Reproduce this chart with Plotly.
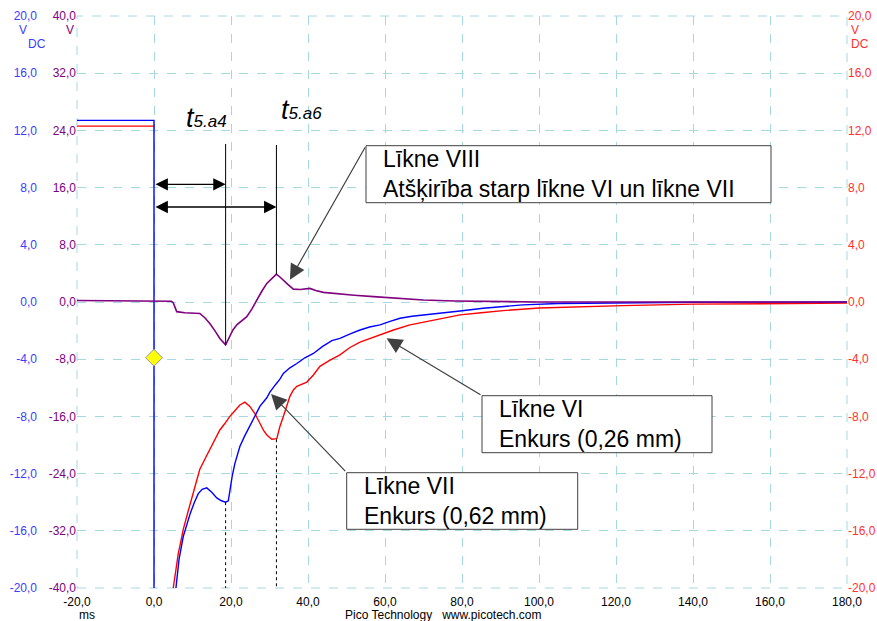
import plotly.graph_objects as go

W, H = 877, 621
# plot area in pixels
PX0, PX1, PY0, PY1 = 77, 847, 16, 588

# ---------------- data ----------------
X_TICKS = [-20, 0, 20, 40, 60, 80, 100, 120, 140, 160, 180]
X_LABELS = ["-20,0", "0,0", "20,0", "40,0", "60,0", "80,0", "100,0", "120,0", "140,0", "160,0", "180,0"]
V_TICKS = [-20, -16, -12, -8, -4, 0, 4, 8, 12, 16, 20]
V_LABELS = ["-20,0", "-16,0", "-12,0", "-8,0", "-4,0", "0,0", "4,0", "8,0", "12,0", "16,0", "20,0"]
P_TICKS = [-40, -32, -24, -16, -8, 0, 8, 16, 24, 32, 40]
P_LABELS = ["-40,0", "-32,0", "-24,0", "-16,0", "-8,0", "0,0", "8,0", "16,0", "24,0", "32,0", "40,0"]

# Līkne VI (blue, V)
blue_t = [-20, 0, 0, None,
          5.7, 6.5, 7.6, 8.5, 9.4, 10.5, 11.5, 12.5, 13.7, 15.0, 16.3, 17.5, 18.6, 19.3, 19.7,
          20.3, 21.0, 22.3, 23.5, 24.9, 26.2, 27.5, 29.3, 30.1, 31.5, 32.7, 33.6, 35.3, 37.1,
          39.2, 41.4, 43.8, 46.2, 48.3, 50.8, 53.5, 56.0, 58.7, 61.3, 63.9, 67.0, 70.8, 75.0,
          79.5, 85.5, 90.0, 95.8, 105, 120, 140, 180]
blue_v = [12.7, 12.7, -22, None,
          -20.0, -18.0, -16.4, -15.5, -14.8, -14.0, -13.4, -13.1, -13.0, -13.3, -13.7, -13.9, -14.0, -13.9, -13.1,
          -12.2, -11.3, -10.1, -9.4, -8.7, -8.0, -7.3, -6.7, -6.3, -5.8, -5.4, -5.0, -4.6, -4.3,
          -3.9, -3.6, -3.1, -2.7, -2.55, -2.25, -1.96, -1.75, -1.6, -1.35, -1.14, -1.0, -0.9, -0.75,
          -0.63, -0.44, -0.32, -0.2, -0.1, -0.05, -0.02, 0.0]

# Līkne VII (red, V) - its drop at t=0 lies under the blue trace
red_t = [-20, 0, None,
         5.0, 5.6, 6.3, 7.0, 7.6, 8.9, 10.2, 11.0, 11.9, 13.2, 14.5, 15.8, 17.1, 18.4, 19.7,
         21.0, 22.3, 23.6, 24.9, 26.2, 27.5, 28.5, 29.3, 30.6, 31.9, 32.7, 33.6, 34.5, 35.3,
         36.2, 37.1, 39.7, 41.4, 43.1, 45.5, 48.3, 50.8, 53.5, 56.0, 58.7, 62.2, 66.5, 70.0,
         75.0, 79.5, 85.0, 90.7, 100, 110, 121.8, 140, 160, 180]
red_v = [12.3, 12.3, None,
         -20.0, -18.8, -17.6, -16.7, -15.9, -14.6, -13.4, -12.5, -11.7, -11.0, -10.3, -9.6, -8.95, -8.5, -8.0,
         -7.6, -7.2, -7.0, -7.3, -7.8, -8.5, -9.0, -9.3, -9.6, -9.55, -8.7, -8.0, -7.3, -6.6,
         -6.15, -5.9, -5.6, -5.1, -4.5, -4.1, -3.7, -3.2, -2.8, -2.55, -2.3, -1.96, -1.6, -1.4,
         -1.12, -0.9, -0.75, -0.6, -0.42, -0.32, -0.25, -0.15, -0.1, -0.08]

# Līkne VIII (purple, V on ±40 scale)
purple_t = [-20, 0, 4.5, 5.0, 5.9, 8.0, 11.9, 13.2, 14.5, 15.8, 17.1, 18.6, 19.7, 20.5, 21.5,
            22.8, 24.1, 25.4, 26.7, 28.0, 29.3, 30.6, 31.8, 32.7, 33.6, 34.9, 36.2, 38.0, 40.5,
            42.0, 44.0, 48.3, 52.0, 57.0, 63.0, 70.0, 78.0, 87.0, 100, 130, 180]
purple_v = [0.2, 0.2, 0.1, -0.1, -1.35, -1.5, -1.6, -2.2, -3.0, -4.0, -5.1, -6.0, -4.85, -3.9, -3.2,
            -2.6, -2.05, -1.0, 0.28, 1.5, 2.6, 3.3, 3.9, 3.5, 3.1, 2.4, 1.8, 1.75, 1.9,
            1.6, 1.35, 1.1, 0.95, 0.75, 0.5, 0.28, 0.15, 0.05, 0.0, 0.0, 0.0]

TRIGGER_T, TRIGGER_V = [0.0], [-3.9]
T_A4, T_A6 = 18.6, 31.8

BLUE, RED, PURPLE = "#0000ff", "#ff0000", "#800080"
GRID = "#a6d8e2"
FONT = "Liberation Sans, Arial, sans-serif"


def px_x(p):  # pixel -> data time
    return -20 + (p - PX0) / (PX1 - PX0) * 200


def px_y(p):  # pixel -> data volts (±20 scale)
    return 20 - (p - PY0) / (PY1 - PY0) * 40


def val_at(ts, vs, t0):
    best = None
    for t, v in zip(ts, vs):
        if t is None:
            continue
        if best is None or abs(t - t0) < abs(best[0] - t0):
            best = (t, v)
    return best[1]


fig = go.Figure()
fig.add_trace(go.Scatter(x=red_t, y=red_v, mode="lines", line=dict(color=RED, width=1.4),
                         yaxis="y", connectgaps=False, showlegend=False))
fig.add_trace(go.Scatter(x=blue_t, y=blue_v, mode="lines", line=dict(color=BLUE, width=1.4),
                         yaxis="y2", connectgaps=False, showlegend=False))
fig.add_trace(go.Scatter(x=purple_t, y=purple_v, mode="lines", line=dict(color=PURPLE, width=1.6),
                         yaxis="y3", showlegend=False))
fig.add_trace(go.Scatter(x=TRIGGER_T, y=TRIGGER_V, mode="markers", yaxis="y2",
                         marker=dict(symbol="diamond", size=13, color="#ffff00",
                                     line=dict(color="#9090c0", width=1)), showlegend=False))

dom_x = [PX0 / W, PX1 / W]
dom_y = [1 - PY1 / H, 1 - PY0 / H]
tickfont = dict(family=FONT, size=12)

fig.update_layout(
    width=W, height=H, autosize=False,
    margin=dict(l=0, r=0, t=0, b=0, pad=0),
    paper_bgcolor="white", plot_bgcolor="white",
    xaxis=dict(domain=dom_x, range=[-20, 180], tickvals=X_TICKS, ticktext=X_LABELS, automargin=False,
               showgrid=True, gridcolor=GRID, griddash="dash", gridwidth=1, zeroline=False,
               showline=False, ticks="outside", ticklen=3, tickcolor="rgba(0,0,0,0)",
               tickfont=dict(tickfont, color="#000000"), anchor="y"),
    yaxis=dict(domain=dom_y, range=[-20, 20], tickvals=V_TICKS, ticktext=V_LABELS, side="right",
               anchor="x", showgrid=True, gridcolor=GRID, griddash="dash", gridwidth=1, automargin=False,
               zeroline=False, showline=False, ticks="",
               tickfont=dict(tickfont, color="#ff3030")),
    yaxis2=dict(range=[-20, 20], tickvals=V_TICKS, ticktext=V_LABELS, overlaying="y", side="left",
                anchor="free", position=37 / W, showgrid=False, zeroline=False, showline=False,
                automargin=False, ticks="", tickfont=dict(tickfont, color="#3c3cff")),
    yaxis3=dict(range=[-40, 40], tickvals=P_TICKS, ticktext=P_LABELS, overlaying="y", side="left",
                anchor="x", showgrid=False, zeroline=False, showline=False, automargin=False,
                ticks="", tickfont=dict(tickfont, color=PURPLE)),
)

shapes = []
# dashed frame (grid at the plot edges)
shapes.append(dict(type="rect", xref="x domain", yref="y domain", x0=0, x1=1, y0=0, y1=1,
                   line=dict(color=GRID, width=1, dash="dash"), layer="below"))
# marker lines
p_min = min(purple_v)
p_max = max(purple_v)
shapes.append(dict(type="line", xref="x", yref="y", x0=T_A4, x1=T_A4, y0=p_min / 2, y1=px_y(144),
                   line=dict(color="black", width=1)))
shapes.append(dict(type="line", xref="x", yref="y", x0=T_A6, x1=T_A6, y0=p_max / 2, y1=px_y(145),
                   line=dict(color="black", width=1)))
shapes.append(dict(type="line", xref="x", yref="y", x0=T_A4, x1=T_A4, y0=val_at(blue_t, blue_v, T_A4),
                   y1=-20, line=dict(color="black", width=1, dash="dot")))
shapes.append(dict(type="line", xref="x", yref="y", x0=T_A6, x1=T_A6, y0=val_at(red_t, red_v, 30.6),
                   y1=-20, line=dict(color="black", width=1, dash="dot")))

# callout boxes (pixel positions converted)
boxes = [
    ((366, 145.7, 771, 202.7), ["Līkne VIII", "Atšķirība starp līkne VI un līkne VII"], (35.3, 1.55)),
    ((482, 395.7, 712, 452.7), ["Līkne VI", "Enkurs (0,26 mm)"], (60.4, -2.54)),
    ((346.7, 472.7, 577.7, 529.3), ["Līkne VII", "Enkurs (0,62 mm)"], (30.4, -6.43)),
]
annotations = []
for (x0, y0, x1, y1), lines, tip in boxes:
    shapes.append(dict(type="rect", xref="x", yref="y", x0=px_x(x0), x1=px_x(x1), y0=px_y(y0),
                       y1=px_y(y1), fillcolor="white", line=dict(color="#404040", width=1),
                       layer="above"))
    annotations.append(dict(xref="x", yref="y", x=px_x(x0 + 15), y=px_y((y0 + y1) / 2),
                            text="<br>".join(lines), showarrow=False, xanchor="left",
                            yanchor="middle", align="left",
                            font=dict(family=FONT, size=23, color="black")))
    annotations.append(dict(xref="x", yref="y", x=tip[0], y=tip[1], axref="x", ayref="y",
                            ax=px_x(x0), ay=px_y(y0), text="", showarrow=True, arrowhead=2,
                            arrowsize=2.6, arrowwidth=1.2, arrowcolor="#404040", standoff=0))

# double arrows
for t_end, ypix in [(T_A4, 184.3), (T_A6, 207.0)]:
    annotations.append(dict(xref="x", yref="y", x=t_end, y=px_y(ypix), axref="x", ayref="y",
                            ax=0, ay=px_y(ypix), text="", showarrow=True, arrowhead=2,
                            arrowside="end+start", arrowsize=1.9, arrowwidth=1.3,
                            arrowcolor="black", standoff=0, startstandoff=0))

# t labels
annotations.append(dict(xref="x", yref="y", x=px_x(184), y=px_y(118), xanchor="left", yanchor="middle",
                        text="<i>t<span style='font-size:17px'>5.a4</span></i>", showarrow=False,
                        font=dict(family=FONT, size=27, color="black")))
annotations.append(dict(xref="x", yref="y", x=px_x(279), y=px_y(110), xanchor="left", yanchor="middle",
                        text="<i>t<span style='font-size:17px'>5.a6</span></i>", showarrow=False,
                        font=dict(family=FONT, size=27, color="black")))

# units and footer text
small = dict(family=FONT, size=12)
for txt, x, y, col in [("V", 22.5, 30.5, "#3c3cff"), ("DC", 36.5, 44, "#3c3cff"),
                       ("V", 70, 30.5, PURPLE), ("V", 855, 30.5, "#ff3030"),
                       ("DC", 859.5, 44, "#ff3030"), ("ms", 87, 615, "black")]:
    annotations.append(dict(xref="paper", yref="paper", x=x / W, y=1 - y / H, text=txt,
                            showarrow=False, xanchor="center", yanchor="middle",
                            font=dict(small, color=col)))
annotations.append(dict(xref="paper", yref="paper", x=343 / W, y=1 - 615 / H,
                        text="Pico Technology&nbsp;&nbsp;&nbsp;www.picotech.com", showarrow=False,
                        xanchor="left", yanchor="middle", font=dict(small, color="black")))

fig.update_layout(shapes=shapes, annotations=annotations)
fig.write_html("out.html", config={"displayModeBar": False})

# remove the default page margin so the figure sits at the window's top-left corner
with open("out.html", encoding="utf-8") as f:
    html = f.read()
html = html.replace("<body>", "<body style=\"margin:0;padding:0;overflow:hidden\">", 1)
with open("out.html", "w", encoding="utf-8") as f:
    f.write(html)
